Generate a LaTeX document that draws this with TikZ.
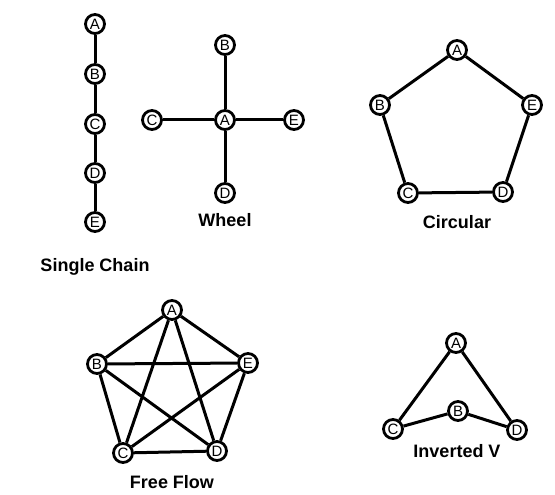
\documentclass[tikz,border=0pt]{standalone}
\usepackage{fontspec}
\setmainfont{Liberation Sans}
\begin{document}
\begin{tikzpicture}[x=1pt,y=-1pt,
  nd/.style={circle,draw,fill=white,line width=2.8pt,minimum size=19pt,inner sep=0pt,font=\fontsize{15}{15}\selectfont},
  lk/.style={line width=3pt},
  caption/.style={font=\fontsize{18}{18}\selectfont\bfseries}]
\useasboundingbox[fill=white] (0,0) rectangle (555,495);
% Single chain
\node[nd] (sa) at (95,24) {A};
\node[nd] (sb) at (95,74) {B};
\node[nd] (sc) at (95,124) {C};
\node[nd] (sd) at (95,173) {D};
\node[nd] (se) at (95,222) {E};
\draw[lk] (sa)--(sb) (sb)--(sc) (sc)--(sd) (sd)--(se);
\node[caption] (scap) at (95,267) {Single Chain};
% Wheel
\node[nd] (wa) at (225,120) {A};
\node[nd] (wb) at (225,45) {B};
\node[nd] (wc) at (152,120) {C};
\node[nd] (wd) at (225,193) {D};
\node[nd] (we) at (294,120) {E};
\draw[lk] (wa)--(wb) (wa)--(wc) (wa)--(wd) (wa)--(we);
\node[caption] (wcap) at (225,220) {Wheel};
% Circular
\node[nd] (ca) at (457,50) {A};
\node[nd] (cb) at (380,105) {B};
\node[nd] (ce) at (532,105) {E};
\node[nd] (cc) at (408,193) {C};
\node[nd] (cd) at (503,192) {D};
\draw[lk] (ca)--(cb) (cb)--(cc) (cc)--(cd) (cd)--(ce) (ce)--(ca);
\node[caption] (ccap) at (457,222) {Circular};
% Free flow
\node[nd] (fa) at (172,310) {A};
\node[nd] (fb) at (97,364) {B};
\node[nd] (fe) at (248,363) {E};
\node[nd] (fc) at (123,453) {C};
\node[nd] (fd) at (217,451) {D};
\draw[lk] (fa)--(fb) (fa)--(fc) (fa)--(fd) (fa)--(fe)
  (fb)--(fc) (fb)--(fd) (fb)--(fe)
  (fc)--(fd) (fc)--(fe) (fd)--(fe);
\node[caption] (fcap) at (172,482) {Free Flow};
% Inverted V
\node[nd] (va) at (456,343) {A};
\node[nd] (vb) at (458,411) {B};
\node[nd] (vc) at (393,429) {C};
\node[nd] (vd) at (517,430) {D};
\draw[lk] (va)--(vc) (va)--(vd) (vc)--(vb) (vb)--(vd);
\node[caption] (vcap) at (457,451) {Inverted V};
\end{tikzpicture}
\end{document}
